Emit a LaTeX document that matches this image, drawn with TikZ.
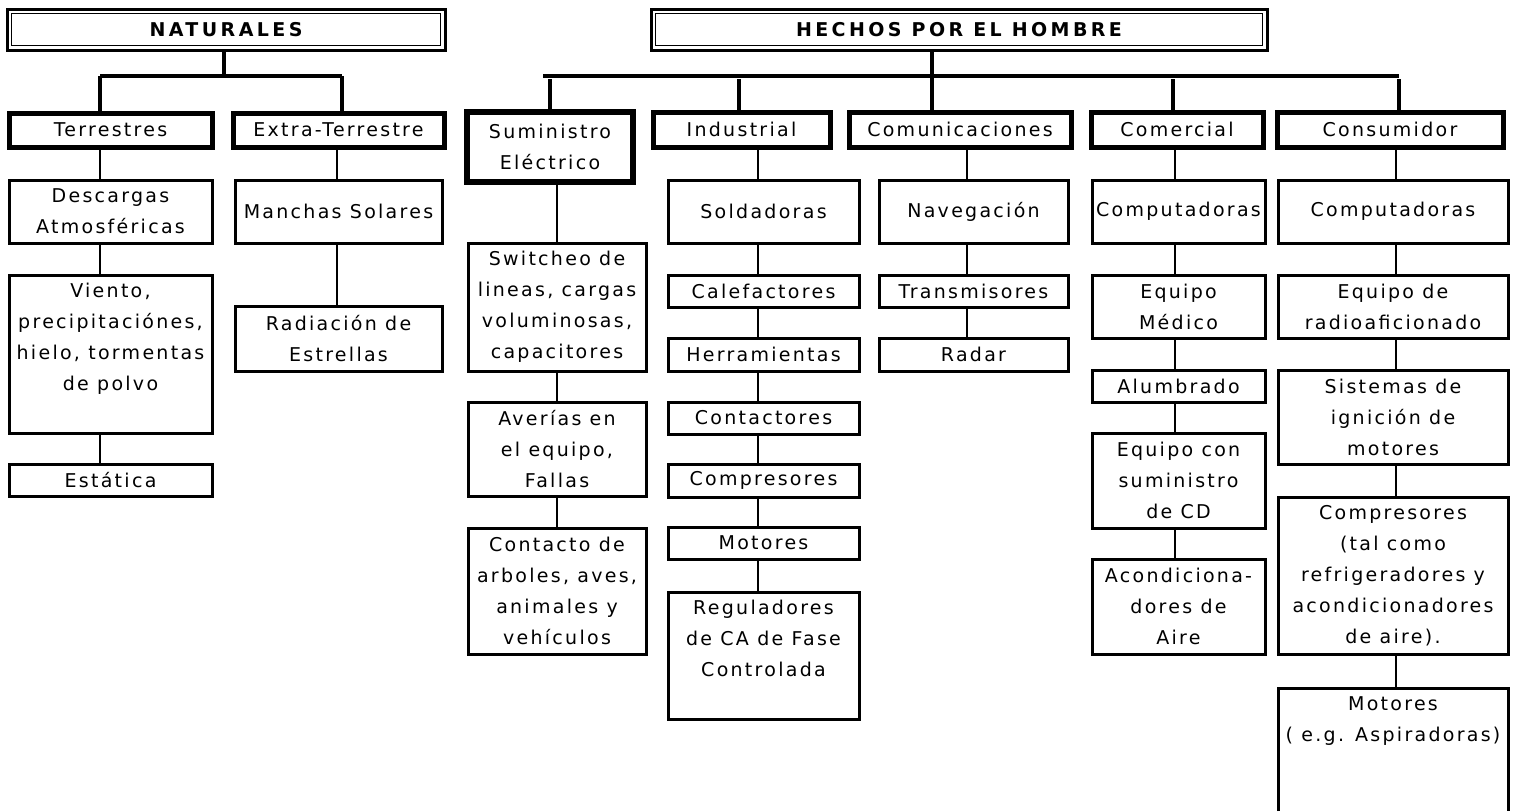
\documentclass[tikz,border=0pt]{standalone}
\usepackage{fontspec}
\setmainfont{DejaVu Sans}
\newfontfamily\bodyfam[LetterSpace=12]{DejaVu Sans}
\newfontfamily\titlefam[LetterSpace=18]{DejaVu Sans}
\newcommand\bodyf{\bodyfam\fontsize{9.5}{15.5}\selectfont}
\newcommand\titlef{\titlefam\bfseries\fontsize{9.5}{11}\selectfont}
\tikzset{
  titlebox/.style={draw, line width=1.5pt, inner sep=0pt, outer sep=0pt, font=\titlef},
  lvlbox/.style={draw, line width=2.5pt, inner sep=0pt, outer sep=0pt, font=\bodyf, align=center},
  leafbox/.style={draw, line width=1.5pt, inner sep=0pt, outer sep=0pt, font=\bodyf, align=center},
  openbox/.style={inner sep=0pt, outer sep=0pt, font=\bodyf, align=center},
  toptext/.style={anchor=north, inner sep=0pt, font=\bodyf, align=center},
  bar/.style={line width=1.8pt},
  thinline/.style={line width=0.8pt},
}
% \bx[extra]{style}{name}{x1}{y1}{x2}{y2}{text}
\newcommand\bx[8][]{%
  \node[#2, anchor=north west, minimum width={(#6-#4)*0.5pt}, minimum height={(#7-#5)*0.5pt}, #1] (#3) at (#4,#5) {#8};}
\begin{document}
\begin{tikzpicture}[x=0.5pt,y=-0.5pt]
\useasboundingbox (0,0) rectangle (1515,811);

% titles
\bx{titlebox}{nat}{7}{9}{445}{50}{NATURALES}
\bx{titlebox}{hom}{651}{9}{1267}{50}{HECHOS POR EL HOMBRE}
\foreach \t in {nat,hom}{
  \draw[line width=0.8pt] ([shift={(2.3pt,-2.3pt)}]\t.north west) rectangle ([shift={(-2.3pt,2.3pt)}]\t.south east);
}

% level 1
\bx{lvlbox}{terr}{9}{113}{212}{147}{Terrestres}
\bx{lvlbox}{ext}{233}{113}{444}{147}{Extra-Terrestre}
\bx[line width=3pt]{lvlbox}{sum}{467}{112}{633}{182}{Suministro\\Eléctrico}
\bx{lvlbox}{ind}{653}{112}{830}{147}{Industrial}
\bx{lvlbox}{com}{849}{112}{1071}{147}{Comunicaciones}
\bx{lvlbox}{cmr}{1091}{112}{1263}{147}{Comercial}
\bx{lvlbox}{cns}{1277}{112}{1503}{147}{Consumidor}

% Terrestres column
\bx{leafbox}{desc}{9}{180}{212}{243}{Descargas\\Atmosféricas}
\bx{leafbox}{vien}{9}{275}{212}{433}{}
\node[toptext] (vient) at ([yshift=-4pt]vien.north) {Viento,\\precipitaciónes,\\hielo, tormentas\\de polvo};
\bx{leafbox}{esta}{9}{464}{212}{496}{Estática}

% Extra-Terrestre column
\bx{leafbox}{manc}{235}{180}{442}{243}{Manchas Solares}
\bx{leafbox}{radi}{235}{306}{442}{371}{Radiación de\\Estrellas}

% Suministro column
\bx{leafbox}{swi}{468}{243}{646}{371}{Switcheo de\\lineas, cargas\\voluminosas,\\capacitores}
\bx{leafbox}{ave}{468}{402}{646}{496}{Averías en\\el equipo,\\Fallas}
\bx{leafbox}{cont}{468}{528}{646}{654}{Contacto de\\arboles, aves,\\animales y\\vehículos}

% Industrial column
\bx{leafbox}{sol}{668}{180}{859}{243}{Soldadoras}
\bx{leafbox}{cal}{668}{275}{859}{307}{Calefactores}
\bx{leafbox}{her}{668}{338}{859}{371}{Herramientas}
\bx{leafbox}{ctc}{668}{402}{859}{434}{Contactores}
\bx{leafbox}{cmp}{668}{464}{859}{497}{Compresores}
\bx{leafbox}{mot}{668}{527}{859}{559}{Motores}
\bx{leafbox}{reg}{668}{592}{859}{719}{}
\node[toptext] (regt) at ([yshift=-4pt]reg.north) {Reguladores\\de CA de Fase\\Controlada};

% Comunicaciones column
\bx{leafbox}{nav}{879}{180}{1068}{243}{Navegación}
\bx{leafbox}{tra}{879}{275}{1068}{307}{Transmisores}
\bx{leafbox}{rad}{879}{338}{1068}{371}{Radar}

% Comercial column
\bx{leafbox}{compa}{1092}{180}{1265}{243}{Computadoras}
\bx{leafbox}{med}{1092}{275}{1265}{338}{Equipo\\Médico}
\bx{leafbox}{alu}{1092}{370}{1265}{402}{Alumbrado}
\bx{leafbox}{ecd}{1092}{433}{1265}{528}{Equipo con\\suministro\\de CD}
\bx{leafbox}{aco}{1092}{559}{1265}{654}{Acondiciona-\\dores de\\Aire}

% Consumidor column
\bx{leafbox}{compb}{1278}{180}{1508}{243}{Computadoras}
\bx{leafbox}{radio}{1278}{275}{1508}{338}{Equipo de\\radioaficionado}
\bx{leafbox}{sis}{1278}{370}{1508}{464}{Sistemas de\\ignición de\\motores}
\bx{leafbox}{cpr}{1278}{497}{1508}{654}{Compresores\\(tal como\\refrigeradores y\\acondicionadores\\de aire).}
\bx{openbox}{motb}{1278}{688}{1508}{811}{}
\draw[line width=1.5pt] (motb.south west) -- (motb.north west) -- (motb.north east) -- (motb.south east);
\node[toptext] (motbt) at ([yshift=-4pt]motb.north) {Motores\\( e.g. Aspiradoras)};

% thick tree connectors
\coordinate (nb) at (224,76);
\coordinate (da) at (100,76);
\coordinate (db) at (342,76);
\draw[bar] (nat.south -| nb) -- (nb);
\draw[bar] (da) -- (db);
\draw[bar] (da) -- (da |- terr.north);
\draw[bar] (db) -- (db |- ext.north);

\coordinate (hb) at (932,76);
\coordinate (hl) at (543,76);
\coordinate (hr) at (1399,76);
\draw[bar] (hl) -- (hr);
\draw[bar] (hb |- hom.south) -- (hb |- com.north);
\draw[bar] (550,79) -- (550,0 |- sum.north);
\draw[bar] (739,79) -- (739,0 |- ind.north);
\draw[bar] (1173,79) -- (1173,0 |- cmr.north);
\draw[bar] (1399,79) -- (1399,0 |- cns.north);

% thin column connectors
\coordinate (ca) at (100,0);
\coordinate (cb) at (337,0);
\coordinate (cc) at (557,0);
\coordinate (cd) at (758,0);
\coordinate (ce) at (967,0);
\coordinate (cf) at (1175,0);
\coordinate (cg) at (1396,0);
\foreach \c/\a/\b in {ca/terr/desc, ca/desc/vien, ca/vien/esta,
  cb/ext/manc, cb/manc/radi,
  cc/sum/swi, cc/swi/ave, cc/ave/cont,
  cd/ind/sol, cd/sol/cal, cd/cal/her, cd/her/ctc, cd/ctc/cmp, cd/cmp/mot, cd/mot/reg,
  ce/com/nav, ce/nav/tra, ce/tra/rad,
  cf/cmr/compa, cf/compa/med, cf/med/alu, cf/alu/ecd, cf/ecd/aco,
  cg/cns/compb, cg/compb/radio, cg/radio/sis, cg/sis/cpr, cg/cpr/motb}{
  \draw[thinline] (\c |- \a.south) -- (\c |- \b.north);
}
\end{tikzpicture}
\end{document}
